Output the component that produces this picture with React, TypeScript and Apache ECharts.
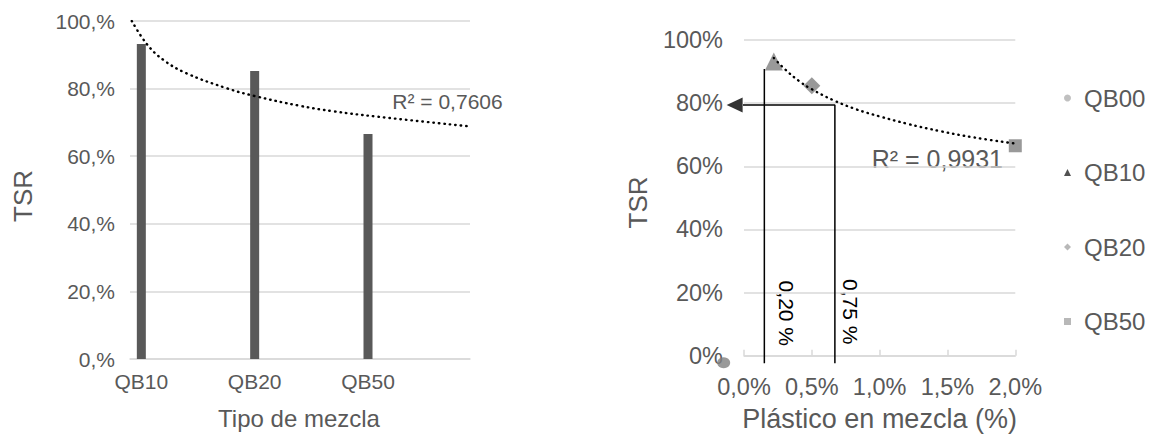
import React, { useEffect, useRef } from 'react';
import * as echarts from 'echarts';

// ---- Left chart: TSR by mix type ----
const mixCategories = ['QB10', 'QB20', 'QB50'];
const mixSlots = [0, 5, 10];
const slotCount = 15;
const tsrByMix = [93.2, 85.2, 66.6];
const leftTrendX = [0.58, 1.24, 1.97, 3.0, 4.77, 6.0, 8.0, 9.45, 11.4, 15.5];
const leftTrendY = [100, 93.2, 88.5, 84.5, 80.1, 77.8, 74.9, 73.3, 71.7, 68.8];
const leftR2 = 'R² = 0,7606';

// ---- Right chart: TSR vs plastic content ----
const plasticSeries = ['QB00', 'QB10', 'QB20', 'QB50'];
const plasticSymbols = ['circle', 'triangle', 'diamond', 'rect'];
const plasticX = [-0.15, 0.22, 0.5, 2.0];
const plasticTsr = [-2.2, 93.2, 85.5, 66.5];
const legendColors = ['#b0b0b0', '#262626', '#a6a6a6', '#a6a6a6'];
const rightTrendX = [0.22, 0.3, 0.4, 0.5, 0.66, 0.83, 1.0, 1.2, 1.45, 1.7, 2.0];
const rightTrendY = [94.3, 90.8, 87.2, 84.4, 80.9, 78.0, 75.8, 73.5, 71.1, 69.1, 67.2];
const rightR2 = 'R² = 0,9931';
const guideX = [0.15, 0.67];
const guideTop = [90.8, 79.4];
const guideTsr = 79.4;
const guideBottom = -2.4;
const arrowHeadX = -0.069;
const arrowBaseX = -0.01;
const guideLabels = ['0,20 %', '0,75 %'];

const FONT = '"Liberation Sans", Arial, sans-serif';
const GRAY = '#595959';
const GRID_LINE = '#d9d9d9';

export default function App() {
  const ref = useRef<HTMLDivElement>(null);

  useEffect(() => {
    if (!ref.current) return;
    const chart = echarts.init(ref.current, undefined, { renderer: 'svg' });

    const slotNames = Array.from({ length: slotCount }, (_, i) => 's' + i);
    const slotLabel: Record<string, string> = {};
    mixSlots.forEach((s, i) => (slotLabel['s' + s] = mixCategories[i]));
    const barData: (number | null)[] = slotNames.map(() => null);
    mixSlots.forEach((s, i) => (barData[s] = tsrByMix[i]));

    const dotted = { color: '#000', width: 2.4, type: [0.5, 5] as any, cap: 'round' as any };

    const scatterSeries = plasticSeries.map((name, i) => ({
      type: 'scatter',
      name,
      xAxisIndex: 2,
      yAxisIndex: 1,
      symbol: plasticSymbols[i],
      symbolSize: [[13, 11], 18, 17, 13][i],
      data: [[plasticX[i], plasticTsr[i]]],
      itemStyle: { color: '#7f7f7f' },
      clip: false,
      z: 4,
      silent: true,
    }));

    chart.setOption({
      animation: false,
      textStyle: { fontFamily: FONT },
      grid: [
        { left: 130, top: 21, width: 340, height: 338 },
        { left: 744, top: 40, width: 271.3, height: 315.7 },
      ],
      xAxis: [
        {
          type: 'category',
          gridIndex: 0,
          data: slotNames,
          boundaryGap: true,
          axisLine: { lineStyle: { color: GRID_LINE, width: 1.5 } },
          axisTick: { inside: true, length: 6, interval: 0, lineStyle: { color: GRID_LINE, width: 1.5 } },
          axisLabel: {
            interval: 0,
            margin: 12,
            fontSize: 21,
            color: GRAY,
            fontFamily: FONT,
            formatter: (v: string) => slotLabel[v] || '',
          },
        },
        { type: 'value', gridIndex: 0, min: 0.5, max: 15.5, show: false },
        {
          type: 'value',
          gridIndex: 1,
          min: 0,
          max: 2,
          interval: 0.5,
          splitLine: { show: false },
          axisLine: { lineStyle: { color: GRID_LINE, width: 1.5 } },
          axisTick: { inside: true, length: 6, lineStyle: { color: GRID_LINE, width: 1.5 } },
          axisLabel: {
            margin: 19,
            fontSize: 23.5,
            color: GRAY,
            fontFamily: FONT,
            formatter: (v: number) => v.toFixed(1).replace('.', ',') + '%',
          },
        },
      ],
      yAxis: [
        {
          type: 'value',
          gridIndex: 0,
          min: 0,
          max: 100,
          interval: 20,
          axisLine: { show: false },
          axisTick: { show: false },
          splitLine: { lineStyle: { color: GRID_LINE, width: 1.5 } },
          axisLabel: { margin: 15, fontSize: 21, color: GRAY, fontFamily: FONT, formatter: (v: number) => v + ',%' },
        },
        {
          type: 'value',
          gridIndex: 1,
          min: 0,
          max: 100,
          interval: 20,
          axisLine: { show: false },
          axisTick: { show: false },
          splitLine: { lineStyle: { color: GRID_LINE, width: 1.5 } },
          axisLabel: { margin: 21, fontSize: 23.5, color: GRAY, fontFamily: FONT, formatter: (v: number) => v + '%' },
        },
      ],
      legend: {
        orient: 'vertical',
        left: 1064,
        top: 84,
        padding: 0,
        itemWidth: 7,
        itemHeight: 7,
        itemGap: 46.5,
        selectedMode: false,
        textStyle: { fontSize: 24, lineHeight: 28, color: GRAY, fontFamily: FONT, padding: [0, 0, 0, 8] },
        data: plasticSeries.map((name, i) => ({
          name,
          icon: plasticSymbols[i],
          itemStyle: { color: legendColors[i] },
        })),
      },
      series: [
        {
          type: 'bar',
          xAxisIndex: 0,
          yAxisIndex: 0,
          data: barData,
          barWidth: 9,
          itemStyle: { color: GRAY },
          silent: true,
        },
        {
          type: 'line',
          xAxisIndex: 1,
          yAxisIndex: 0,
          data: leftTrendX.map((x, i) => [x, leftTrendY[i]]),
          smooth: 0.4,
          symbol: 'none',
          lineStyle: dotted,
          silent: true,
          z: 5,
        },
        ...scatterSeries,
        {
          type: 'line',
          xAxisIndex: 2,
          yAxisIndex: 1,
          data: rightTrendX.map((x, i) => [x, rightTrendY[i]]),
          smooth: 0.4,
          symbol: 'none',
          lineStyle: dotted,
          silent: true,
          z: 5,
        },
        {
          type: 'line',
          xAxisIndex: 2,
          yAxisIndex: 1,
          data: [
            [guideX[0], guideBottom],
            [guideX[0], guideTop[0]],
          ],
          symbol: 'none',
          clip: false,
          lineStyle: { color: '#000', width: 1.5 },
          silent: true,
          z: 3,
        },
        {
          type: 'line',
          xAxisIndex: 2,
          yAxisIndex: 1,
          data: [
            [guideX[1], guideBottom],
            [guideX[1], guideTop[1]],
            [arrowBaseX, guideTsr],
          ],
          symbol: 'none',
          clip: false,
          lineStyle: { color: '#000', width: 1.5 },
          silent: true,
          z: 3,
        },
        {
          type: 'scatter',
          xAxisIndex: 2,
          yAxisIndex: 1,
          data: [[arrowHeadX, guideTsr]],
          symbol: 'triangle',
          symbolRotate: 90,
          symbolSize: [15, 16],
          itemStyle: { color: '#000' },
          clip: false,
          silent: true,
          z: 3,
        },
      ],
      graphic: [
        {
          type: 'text',
          x: 447.5,
          y: 101.7,
          style: { text: leftR2, fill: GRAY, font: `21px ${FONT}`, align: 'center', verticalAlign: 'middle' },
        },
        {
          type: 'text',
          x: 1003,
          y: 159,
          style: { text: rightR2, fill: GRAY, font: `25px ${FONT}`, align: 'right', verticalAlign: 'middle' },
        },
        {
          type: 'text',
          x: 786.7,
          y: 313.3,
          rotation: -Math.PI / 2,
          style: { text: guideLabels[0], fill: '#000', font: `21px ${FONT}`, align: 'center', verticalAlign: 'middle' },
        },
        {
          type: 'text',
          x: 850,
          y: 311.7,
          rotation: -Math.PI / 2,
          style: { text: guideLabels[1], fill: '#000', font: `21px ${FONT}`, align: 'center', verticalAlign: 'middle' },
        },
        {
          type: 'text',
          x: 23.3,
          y: 196,
          rotation: Math.PI / 2,
          style: { text: 'TSR', fill: GRAY, font: `26px ${FONT}`, align: 'center', verticalAlign: 'middle' },
        },
        {
          type: 'text',
          x: 299,
          y: 418,
          style: { text: 'Tipo de mezcla', fill: GRAY, font: `24px ${FONT}`, align: 'center', verticalAlign: 'middle' },
        },
        {
          type: 'text',
          x: 638.3,
          y: 202.5,
          rotation: Math.PI / 2,
          style: { text: 'TSR', fill: GRAY, font: `26px ${FONT}`, align: 'center', verticalAlign: 'middle' },
        },
        {
          type: 'text',
          x: 879.6,
          y: 419,
          style: { text: 'Plástico en mezcla (%)', fill: GRAY, font: `27px ${FONT}`, align: 'center', verticalAlign: 'middle' },
        },
      ],
    });

    return () => chart.dispose();
  }, []);

  return (
    <div
      ref={ref}
      style={{ position: 'fixed', left: 0, top: 0, width: 1158, height: 437, background: '#fff' }}
    />
  );
}
